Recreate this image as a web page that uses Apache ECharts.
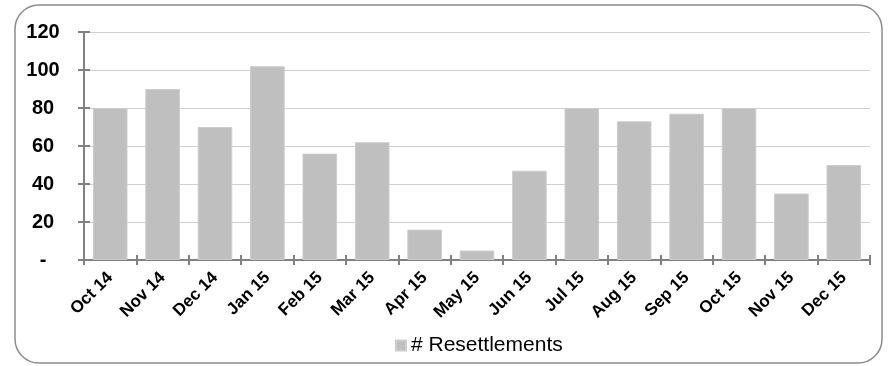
<!DOCTYPE html>
<html>
<head>
<meta charset="utf-8">
<script src="https://cdn.jsdelivr.net/npm/echarts@6/dist/echarts.min.js"></script>
<style>
  html, body { margin: 0; padding: 0; background: #fff; }
  #chart { width: 888px; height: 366px; }
</style>
</head>
<body>
<div id="chart"></div>
<script>
// Monthly resettlements, Oct 2014 – Dec 2015
const months = ['Oct 14', 'Nov 14', 'Dec 14', 'Jan 15', 'Feb 15', 'Mar 15', 'Apr 15', 'May 15',
                'Jun 15', 'Jul 15', 'Aug 15', 'Sep 15', 'Oct 15', 'Nov 15', 'Dec 15'];
const resettlements = [80, 90, 70, 102, 56, 62, 16, 5, 47, 80, 73, 77, 80, 35, 50];
const seriesName = '# Resettlements';

const font = '"Liberation Sans", Arial, sans-serif';
const axisGray = '#808080';
const chart = echarts.init(document.getElementById('chart'), null, { renderer: 'canvas' });

// tick marks that cross the axis line: outward ticks on the main axis,
// inward ticks on a bare companion axis at the same position
const tickStyle = { color: axisGray, width: 2 };

chart.setOption({
  animation: false,
  backgroundColor: '#fff',
  graphic: [{
    type: 'rect',
    shape: { x: 15, y: 5, width: 867, height: 358, r: 24 },
    style: { fill: 'none', stroke: '#8c8c8c', lineWidth: 1.5 },
    silent: true,
    z: -10
  }],
  grid: { left: 84, right: 18, top: 32, bottom: 106, containLabel: false },
  legend: {
    data: [seriesName],
    top: 330,
    left: 390,
    icon: 'rect',
    itemWidth: 10,
    itemHeight: 10,
    textStyle: { fontFamily: font, fontSize: 21, color: '#000' }
  },
  xAxis: [{
    type: 'category',
    position: 'bottom',
    data: months,
    axisLine: { lineStyle: { color: axisGray, width: 2 } },
    axisTick: { show: true, length: 5, lineStyle: tickStyle },
    axisLabel: {
      rotate: 45,
      margin: 15,
      interval: 0,
      fontFamily: font,
      fontSize: 17,
      fontWeight: 'bold',
      color: '#000'
    },
    splitLine: { show: false }
  }, {
    type: 'category',
    position: 'bottom',
    data: months,
    axisLine: { show: false },
    axisTick: { show: true, inside: true, length: 5, lineStyle: tickStyle },
    axisLabel: { show: false },
    splitLine: { show: false }
  }],
  yAxis: [{
    type: 'value',
    position: 'left',
    min: 0,
    max: 120,
    interval: 20,
    axisLine: { show: true, lineStyle: { color: axisGray, width: 2 } },
    axisTick: { show: true, length: 6, lineStyle: tickStyle },
    axisLabel: {
      margin: 41,
      align: 'center',
      fontFamily: font,
      fontSize: 20,
      fontWeight: 'bold',
      color: '#000',
      formatter: v => (v === 0 ? '-' : String(v))
    },
    splitLine: { lineStyle: { color: '#d0d0d0', width: 1 } }
  }, {
    type: 'value',
    position: 'left',
    min: 0,
    max: 120,
    interval: 20,
    axisLine: { show: false },
    axisTick: { show: true, inside: true, length: 6, lineStyle: tickStyle },
    axisLabel: { show: false },
    splitLine: { show: false }
  }],
  series: [{
    name: seriesName,
    type: 'bar',
    xAxisIndex: 0,
    yAxisIndex: 0,
    data: resettlements,
    barCategoryGap: '34%',
    itemStyle: { color: '#bfbfbf', borderColor: '#cdcdcd', borderWidth: 1 }
  }]
});
</script>
</body>
</html>
